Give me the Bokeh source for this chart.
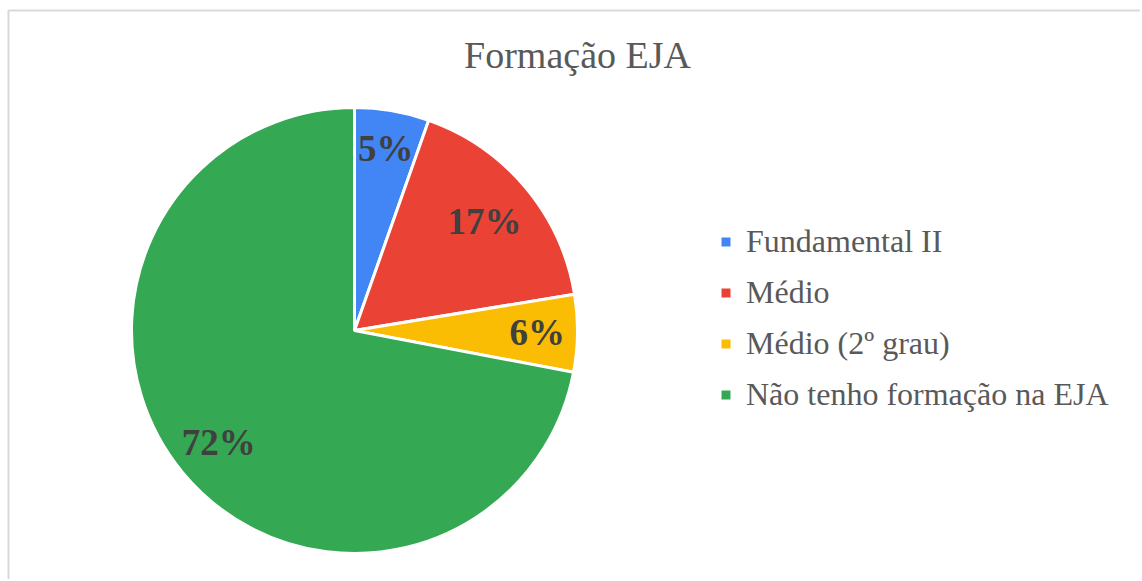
import math
from bokeh.plotting import figure
from bokeh.models import Range1d, Legend, LegendItem, Label, ColumnDataSource, BoxAnnotation
from bokeh.core.properties import value
from bokeh.embed import file_html
from bokeh.resources import INLINE

categories = ["Fundamental II", "Médio", "Médio (2º grau)", "Não tenho formação na EJA"]
percentages = [5.4, 17.0, 5.6, 72.0]
colors = ["#4285F4", "#EA4335", "#FBBC04", "#34A853"]
title_text = "Formação EJA"

# label distance from centre, as a fraction of the radius (layout only)
label_radius_frac = [0.83, 0.76, 0.82, 0.79]

W, H = 1140, 579
# data units == pixels; x from left edge, y measured upward from bottom edge
CX, CY = 354, H - 330      # pie centre
R = 223                    # pie radius in pixels

p = figure(width=W, height=H, output_backend="svg", toolbar_location=None,
           x_range=Range1d(0, W), y_range=Range1d(0, H),
           min_border=0, min_border_left=0, min_border_right=0,
           min_border_top=0, min_border_bottom=0)
p.xaxis.visible = False
p.yaxis.visible = False
p.grid.visible = False
p.outline_line_color = None
p.background_fill_color = "white"
p.border_fill_color = "white"

# chart-area border (top and left visible, right/bottom run off the page)
p.add_layout(BoxAnnotation(left=8, top=H - 10, right=W + 50, bottom=-50,
                           fill_alpha=0, line_color="#d9d9d9", line_alpha=1.0,
                           line_width=2))

total = sum(percentages)
starts, ends, lx, ly, labels = [], [], [], [], []
cum = 0.0
for v, f in zip(percentages, label_radius_frac):
    a0 = math.pi / 2 - 2 * math.pi * cum / total
    cum += v
    a1 = math.pi / 2 - 2 * math.pi * cum / total
    starts.append(a0)
    ends.append(a1)
    mid = (a0 + a1) / 2
    lx.append(CX + f * R * math.cos(mid))
    ly.append(CY + f * R * math.sin(mid))
    labels.append(f"{round(v)}%")

src = ColumnDataSource(dict(lx=lx, ly=ly, label=labels))

items = []
for i in range(len(categories)):
    r = p.wedge(x=CX, y=CY, radius=R, start_angle=starts[i], end_angle=ends[i],
                direction="clock", fill_color=colors[i], line_color="white",
                line_width=3)
    items.append(LegendItem(label=categories[i], renderers=[r]))

p.text(x="lx", y="ly", text="label", source=src, text_align="center",
       text_baseline="middle", text_font=value("Liberation Serif"),
       text_font_style="bold", text_font_size="37px", text_color="#404040")

legend = Legend(items=items, location=(718, 166),
                label_text_font="Liberation Serif", label_text_font_size="32px",
                label_text_color="#595959", glyph_width=15, glyph_height=15,
                spacing=14, label_standoff=13, border_line_color=None,
                background_fill_alpha=0, padding=0, margin=0,
                label_text_baseline="middle")
p.add_layout(legend, "center")

title = Label(x=577, y=H - 54, text=title_text, text_align="center",
              text_baseline="middle", text_font="Liberation Serif",
              text_font_size="38px", text_color="#595959")
p.add_layout(title)

open("out.html", "w").write(file_html(p, INLINE))
